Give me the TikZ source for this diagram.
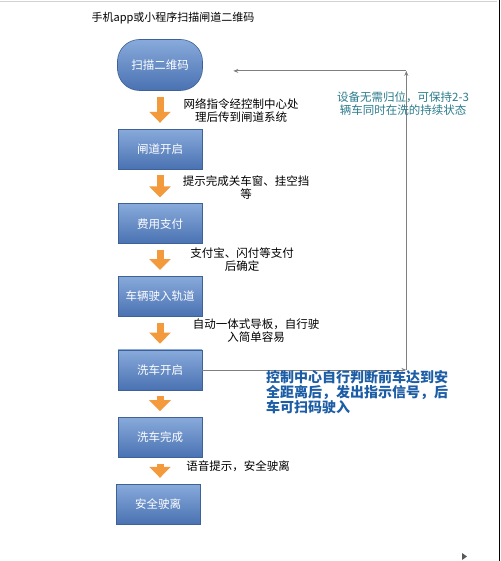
\documentclass[tikz,border=0pt]{standalone}
\usepackage{fontspec}
\setmainfont{Noto Sans CJK SC}
\usetikzlibrary{positioning, arrows.meta, calc}
\definecolor{boxtop}{HTML}{88AADB}
\definecolor{boxbot}{HTML}{4A72B2}
\definecolor{boxline}{HTML}{3E6198}
\definecolor{floworange}{HTML}{F29A3C}
\definecolor{loopgray}{HTML}{7F7F7F}
\definecolor{tealtext}{HTML}{2B7C8C}
\definecolor{bluetext}{HTML}{1C5DA6}
\tikzset{
  stepbox/.style={rectangle, draw=boxline, line width=0.6pt, top color=boxtop, bottom color=boxbot,
    text=white, minimum width=84pt, minimum height=40pt, inner sep=0pt, font=\fontsize{11.5}{13}\selectfont},
  startbox/.style={stepbox, rounded corners=22pt, minimum width=85pt, minimum height=51pt},
  flowarrow/.style={draw=floworange, line width=7pt, -{Triangle[width=21pt,length=11pt]},
    shorten <=6pt, shorten >=6pt},
  note/.style={align=center, inner sep=0pt, font=\fontsize{11.5}{13}\selectfont},
  loopedge/.style={draw=loopgray, line width=0.8pt, -{Stealth[length=5pt,width=4pt]}}
}
\begin{document}
\begin{tikzpicture}[x=1pt, y=-1pt]
		\useasboundingbox (0,0) rectangle (500,561);
		\draw[gray!35, line width=1pt] (0,1.5) -- (497,1.5);
		\draw[line width=1.2pt] (499.2,0) -- (499.2,561);
		
		\node(title) [font=\fontsize{11}{13}\selectfont] at (173,18) {手机app或小程序扫描闸道二维码};
		
		\node[startbox](scan) at (160,65) {扫描二维码};
		\node[stepbox](gate) [below=38pt of scan] {闸道开启};
		\node[stepbox](pay) [below=34pt of gate] {费用支付};
		\node[stepbox](drive) [below=32pt of pay] {车辆驶入轨道};
		\node[stepbox](wash) [below=33pt of drive] {洗车开启};
		\node[stepbox](done) [below=27pt of wash] {洗车完成};
		\node[stepbox](leave) [below=26pt of done, xshift=-2pt] {安全驶离};
		
		\draw[flowarrow] (scan) -- (gate);
		\draw[flowarrow] (gate) -- (pay);
		\draw[flowarrow] (pay) -- (drive);
		\draw[flowarrow] (drive) -- (wash);
		\draw[flowarrow] (wash) -- (done);
		\draw[flowarrow] (done) -- (done |- leave.north);
		
		\node[note](n1) at (241,111) {网络指令经控制中心处\\理后传到闸道系统};
		\node[note](n2) at (246,188) {提示完成关车窗、挂空挡\\等};
		\node[note](n3) at (242,260) {支付宝、闪付等支付\\后确定};
		\node[note](n4) at (256,331) {自动一体式导板，自行驶\\入简单容易};
		\node[note](n5) at (238,466) {语音提示，安全驶离};
		
		\coordinate[right=204pt of wash.east] (loopA);
		\coordinate[above=299pt of loopA] (loopB);
		\coordinate[left=173pt of loopB] (loopC);
		\draw[loopedge] (wash.east) -- (loopA);
		\draw[loopedge] (loopA) -- (loopB);
		\draw[loopedge] (loopB) -- (loopC);
		
		\node[note, text=tealtext](n6) at (403,104) {设备无需归位，可保持2-3\\辆车同时在洗的持续状态};
		\node[note, text=bluetext, align=left, anchor=west, font=\bfseries\fontsize{14}{15}\selectfont](n7) at (266,392)
		{控制中心自行判断前车达到安\\全距离后，发出指示信号，后\\车可扫码驶入};
		
		\fill[gray!70!black] (462,553) -- (467,556.5) -- (462,560) -- cycle;
\end{tikzpicture}
\end{document}
